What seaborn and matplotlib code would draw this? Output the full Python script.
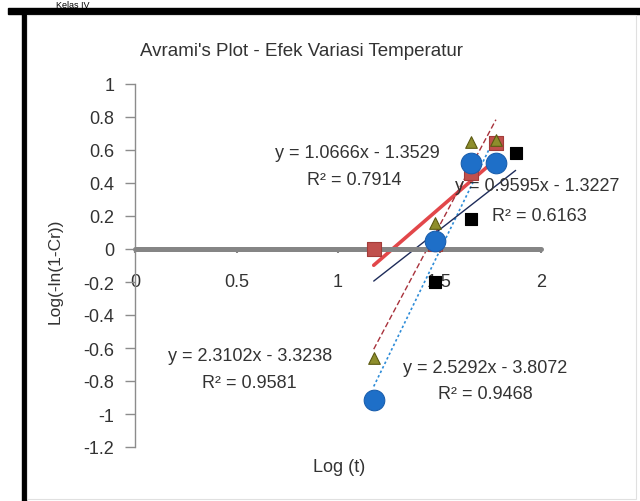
import numpy as np
import pandas as pd
import matplotlib
matplotlib.use("Agg")
import matplotlib.pyplot as plt
import seaborn as sns
from matplotlib.patches import Rectangle
from matplotlib.ticker import FixedLocator, FuncFormatter

# data (log t vs log(-ln(1-Cr)))
log_t = [1.176, 1.477, 1.653, 1.778]
log_t_black = [1.176, 1.477, 1.653, 1.875]
y_red = [0.0, 0.03, 0.46, 0.64]
y_olive = [-0.66, 0.16, 0.65, 0.66]
y_blue = [-0.915, 0.05, 0.52, 0.52]
y_black = [0.0, -0.2, 0.18, 0.58]

# linear trendlines as printed on the chart
slopes = [1.0666, 2.3102, 2.5292, 0.9595]
intercepts = [-1.3529, -3.3238, -3.8072, -1.3227]
r_squared = [0.7914, 0.9581, 0.9468, 0.6163]

x_ticks = [0, 0.5, 1, 1.5, 2]
y_ticks = [1, 0.8, 0.6, 0.4, 0.2, 0, -0.2, -0.4, -0.6, -0.8, -1, -1.2]

sns.set_theme(style="white")
plt.rcParams['font.family'] = ['Liberation Sans', 'DejaVu Sans']

fig = plt.figure(figsize=(6.4, 5.02), dpi=100)
ax = fig.add_axes([135/640, 1-448/502, 406/640, 363/502])
ax.set_facecolor('none')

series = [
    (log_t_black, y_black, 's', 'black', 'black', 75),
    (log_t, y_red, 's', '#C0504D', '#A33C39', 110),
    (log_t, y_olive, '^', '#8E8E2C', '#5C5A12', 70),
    (log_t, y_blue, 'o', '#1E6FC8', '#1A5FAE', 220),
]
trend_style = [
    dict(color='#E2474A', lw=2.6, ls='-'),
    dict(color='#A8323C', lw=1.0, ls=(0, (4, 2))),
    dict(color='#2E8CD8', lw=1.2, ls=(0, (1.5, 1.5))),
    dict(color='#1E2C5A', lw=1.0, ls='-'),
]
trend_x = [log_t, log_t, log_t, log_t_black]

for i in range(4):
    xs = np.array([min(trend_x[i]), max(trend_x[i])])
    ys = slopes[i] * xs + intercepts[i]
    st = trend_style[i]
    sns.lineplot(x=xs, y=ys, ax=ax, color=st['color'], lw=st['lw'],
                 linestyle=st['ls'], zorder=2)

for xs, ys, mk, fc, ec, sz in series:
    sns.scatterplot(x=xs, y=ys, ax=ax, marker=mk, color=fc, edgecolor=ec,
                    linewidth=0.8, s=sz, zorder=3)

ax.set_xlim(0, 2)
ax.set_ylim(-1.2, 1)
for side in ['top', 'right']:
    ax.spines[side].set_visible(False)
ax.spines['bottom'].set_position(('data', 0))
ax.spines['bottom'].set_color('#858585')
ax.spines['bottom'].set_linewidth(3.6)
ax.spines['bottom'].set_capstyle('round')
ax.spines['left'].set_position(('data', 0))
ax.spines['left'].set_color('#8C8C8C')
ax.spines['left'].set_linewidth(1.0)

ax.xaxis.set_major_locator(FixedLocator(x_ticks))
ax.yaxis.set_major_locator(FixedLocator(y_ticks))
fmt = FuncFormatter(lambda v, p: f"{v:g}")
ax.xaxis.set_major_formatter(fmt)
ax.yaxis.set_major_formatter(fmt)
ax.tick_params(axis='y', direction='out', length=7, width=1, color='#8C8C8C',
               pad=8, labelsize=13, labelcolor='#333333', left=True)
ax.tick_params(axis='x', direction='out', length=3, width=1.5, color='#858585',
               pad=14, labelsize=13, labelcolor='#333333', bottom=True)

txt = dict(fontsize=13, color='#333333', ha='center', va='center')
ax.text(1.094, 0.582, f"y = {slopes[0]}x - {-intercepts[0]}", **txt)
ax.text(1.079, 0.424, f"R² = {r_squared[0]}", **txt)
ax.text(1.576, 0.382, f"y = {slopes[3]}x - {-intercepts[3]}",
        **{**txt, 'ha': 'left'})
ax.text(1.759, 0.2, f"R² = {r_squared[3]}", **{**txt, 'ha': 'left'})
ax.text(0.567, -0.648, f"y = {slopes[1]}x - {-intercepts[1]}", **txt)
ax.text(0.562, -0.812, f"R² = {r_squared[1]}", **txt)
ax.text(1.724, -0.721, f"y = {slopes[2]}x - {-intercepts[2]}", **txt)
ax.text(1.724, -0.873, f"R² = {r_squared[2]}", **txt)

fig.text(302/640, 1-51/502, "Avrami's Plot - Efek Variasi Temperatur",
         fontsize=13.5, color='#333333', ha='center', va='center')
fig.text(339/640, 1-468/502, "Log (t)", fontsize=13, color='#333333',
         ha='center', va='center')
fig.text(55/640, 1-271/502, "Log(-ln(1-Cr))", fontsize=12.5, color='#333333',
         ha='center', va='center', rotation=90)

# page frame around the chart
fig.text(90/640, 1-1/502, "Kelas IV", fontsize=6.5, color='black',
         ha='right', va='top')
fig.add_artist(Rectangle((8/640, 1-15/502), 632/640, 6/502,
                         transform=fig.transFigure, color='black'))
fig.add_artist(Rectangle((22/640, 0), 4/640, 487/502,
                         transform=fig.transFigure, color='black'))
fig.add_artist(Rectangle((27/640, 2/502), 609/640, 484/502, fill=False,
                         transform=fig.transFigure, edgecolor='#E0E0E0', lw=0.8))

fig.savefig('out.png', dpi=100)
